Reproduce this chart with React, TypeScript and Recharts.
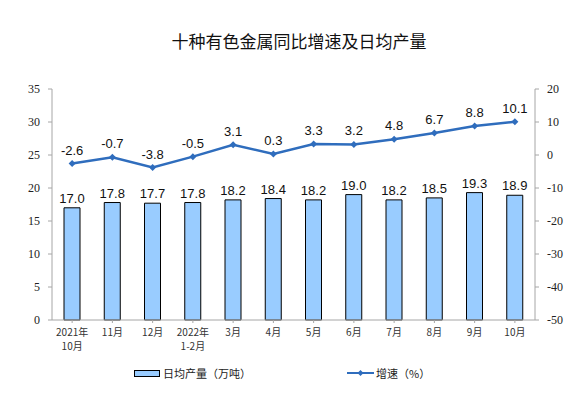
import React from "react";
import {
  ComposedChart,
  Bar,
  Line,
  XAxis,
  YAxis,
  LabelList,
} from "recharts";

// x-axis categories (two-line labels use "\n")
const months = [
  "2021年\n10月",
  "11月",
  "12月",
  "2022年\n1-2月",
  "3月",
  "4月",
  "5月",
  "6月",
  "7月",
  "8月",
  "9月",
  "10月",
];
const dailyOutput = [17.0, 17.8, 17.7, 17.8, 18.2, 18.4, 18.2, 19.0, 18.2, 18.5, 19.3, 18.9];
const growthRate = [-2.6, -0.7, -3.8, -0.5, 3.1, 0.3, 3.3, 3.2, 4.8, 6.7, 8.8, 10.1];
const leftTicks = [0, 5, 10, 15, 20, 25, 30, 35];
const rightTicks = [-50, -40, -30, -20, -10, 0, 10, 20];

const data = months.map((m, i) => ({
  month: m,
  output: dailyOutput[i],
  growth: growthRate[i],
}));

const LINE_COLOR = "#2f6dbd";
const BAR_COLOR = "#99ccff";
const AXIS_COLOR = "#a6a6a6";
const CJK = "'Noto Sans CJK SC', 'Noto Sans', sans-serif";
const SERIF = "'Liberation Serif', 'DejaVu Serif', serif";
const LABEL_FONT = "'Liberation Sans', Arial, sans-serif";

const MonthTick = (props: any) => {
  const { x, y, payload } = props;
  const lines = String(payload.value).split("\n");
  return (
    <g transform={`translate(${x},${y})`}>
      {lines.map((l, i) => (
        <text
          key={i}
          x={0}
          y={11 + i * 14}
          textAnchor="middle"
          fontSize={10}
          fontFamily={CJK}
          fill="#333"
        >
          {l}
        </text>
      ))}
    </g>
  );
};

const SerifTick = (props: any) => {
  const { x, y, payload, anchor } = props;
  return (
    <text
      x={x}
      y={y}
      dy={4}
      textAnchor={anchor}
      fontSize={12}
      fontFamily={SERIF}
      fill="#222"
    >
      {payload.value}
    </text>
  );
};

const ChartLegend = () => (
  <div
    style={{
      position: "absolute",
      left: 0,
      top: 365,
      width: 575,
      height: 18,
      fontFamily: CJK,
      fontSize: 11,
      color: "#222",
    }}
  >
    <div style={{ position: "absolute", left: 134, top: 0, display: "flex", alignItems: "center" }}>
      <span
        style={{
          display: "inline-block",
          width: 24,
          height: 5,
          background: BAR_COLOR,
          border: "1px solid #000",
          marginRight: 3,
        }}
      />
      <span>日均产量（万吨）</span>
    </div>
    <div style={{ position: "absolute", left: 347, top: 0, display: "flex", alignItems: "center" }}>
      <svg width={27} height={8} style={{ marginRight: 2 }}>
        <line x1={0} y1={4} x2={27} y2={4} stroke={LINE_COLOR} strokeWidth={2} />
        <path d="M13.5 1 L16.5 4 L13.5 7 L10.5 4 Z" fill={LINE_COLOR} />
      </svg>
      <span>增速（%）</span>
    </div>
  </div>
);

const Diamond = (props: any) => {
  const { cx, cy } = props;
  if (cx == null || cy == null) return null;
  return (
    <path
      d={`M${cx} ${cy - 3.5} L${cx + 3.5} ${cy} L${cx} ${cy + 3.5} L${cx - 3.5} ${cy} Z`}
      fill={LINE_COLOR}
    />
  );
};

export default function App() {
  return (
    <div style={{ position: "absolute", left: 0, top: 0, width: 575, height: 396, background: "#fff" }}>
      <div
        style={{
          position: "absolute",
          top: 28,
          left: 0,
          width: 598,
          textAlign: "center",
          fontFamily: CJK,
          fontSize: 17,
          color: "#111",
        }}
      >
        十种有色金属同比增速及日均产量
      </div>
      <ComposedChart
        width={575}
        height={396}
        data={data}
        margin={{ top: 89, right: 0, bottom: 46, left: 20 }}
      >
        <XAxis
          dataKey="month"
          height={30}
          stroke={AXIS_COLOR}
          tickLine={{ stroke: AXIS_COLOR }}
          tickSize={3}
          interval={0}
          tick={<MonthTick />}
        />
        <YAxis
          yAxisId="left"
          width={32}
          domain={[0, 35]}
          ticks={leftTicks}
          stroke={AXIS_COLOR}
          tickSize={4}
          tickMargin={8}
          tick={<SerifTick anchor="end" />}
          interval={0}
        />
        <YAxis
          yAxisId="right"
          orientation="right"
          width={40}
          domain={[-50, 20]}
          ticks={rightTicks}
          stroke={AXIS_COLOR}
          tickSize={4}
          tickMargin={8}
          tick={<SerifTick anchor="start" />}
          interval={0}
        />
        <Bar
          yAxisId="left"
          dataKey="output"
          barSize={16}
          fill={BAR_COLOR}
          stroke="#000"
          strokeWidth={1}
          isAnimationActive={false}
        >
          <LabelList
            dataKey="output"
            position="top"
            offset={5}
            formatter={(v: any) => Number(v).toFixed(1)}
            style={{ fontSize: 13, fontFamily: LABEL_FONT, fill: "#111" }}
          />
        </Bar>
        <Line
          yAxisId="right"
          dataKey="growth"
          stroke={LINE_COLOR}
          strokeWidth={2.5}
          dot={<Diamond />}
          activeDot={false}
          isAnimationActive={false}
        >
          <LabelList
            dataKey="growth"
            position="top"
            offset={9}
            formatter={(v: any) => Number(v).toFixed(1)}
            style={{ fontSize: 13, fontFamily: LABEL_FONT, fill: "#111" }}
          />
        </Line>
      </ComposedChart>
      <ChartLegend />
    </div>
  );
}
